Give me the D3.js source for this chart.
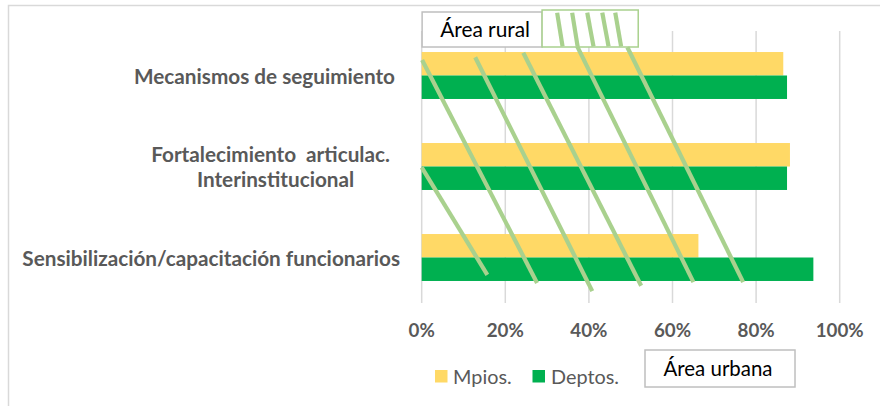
<!DOCTYPE html>
<html><head><meta charset="utf-8">
<script src="https://cdn.jsdelivr.net/npm/d3@7"></script>
<style>html,body{margin:0;padding:0;background:#fff;}svg{display:block;}</style>
</head><body>
<script>
// ---- data ----
const categories = ["Mecanismos de seguimiento", "Fortalecimiento articulac. Interinstitucional", "Sensibilización/capacitación funcionarios"];
const categoryLines = [["Mecanismos de seguimiento\u00a0"], ["Fortalecimiento\u00a0\u00a0articulac.\u00a0\u00a0", "Interinstitucional"], ["Sensibilización/capacitación funcionarios"]];
const seriesNames = ["Mpios.", "Deptos."];
const mpios = [86.5, 88.1, 66.2];
const deptos = [87.4, 87.4, 93.7];
const tickValues = [0, 20, 40, 60, 80, 100];
const tickLabels = ["0%", "20%", "40%", "60%", "80%", "100%"];
// hand-drawn hatch annotation lines: [x0 %, y0 band-units, x1 %, y1 band-units]
const hatchLines = [
  [0.1, 0.33, 27.6, 2.78],
  [12.8, 0.30, 40.8, 2.87],
  [24.3, 0.25, 52.5, 2.81],
  [37.2, 0.18, 65.0, 2.77],
  [49.2, 0.19, 76.9, 2.77],
  [0.0, 1.51, 15.7, 2.69]
];
const legendHatch = [
  [32.4, -0.19, 33.7, 0.18],
  [36.0, -0.19, 37.3, 0.18],
  [39.6, -0.19, 41.1, 0.18],
  [43.2, -0.19, 44.7, 0.18],
  [46.3, -0.19, 47.7, 0.18]
];

const W = 880, H = 406;
const colors = ["#ffd966", "#00b050"];
const hatchColor = "#a9d18e";
const textGray = "#595959";
const FONT = "Lato, 'Open Sans', sans-serif";

const svg = d3.select("body").append("svg").attr("width", W).attr("height", H);

// outer chart border
svg.append("rect").attr("x", 8.5).attr("y", 5.5).attr("width", W + 10).attr("height", H + 10)
  .attr("fill", "#fff").attr("stroke", "#d9d9d9").attr("stroke-width", 1.5);

const plot = {left: 421.7, right: 839.7, top: 30, bottom: 303};
const x = d3.scaleLinear().domain([0, 100]).range([plot.left, plot.right]);
const y = d3.scaleBand().domain(categories).range([plot.top, plot.bottom]).paddingInner(0.484).paddingOuter(0.242);
const ySub = d3.scaleBand().domain(seriesNames).range([0, y.bandwidth()]);
const yLin = d3.scaleLinear().domain([0, 3]).range([plot.top, plot.bottom]);

// gridlines
svg.append("g").selectAll("line").data(tickValues).join("line")
  .attr("x1", d => x(d)).attr("x2", d => x(d))
  .attr("y1", plot.top + 1).attr("y2", plot.bottom)
  .attr("stroke", "#d9d9d9").attr("stroke-width", 1.5);

// bars
const series = [mpios, deptos];
series.forEach((vals, si) => {
  svg.append("g").selectAll("rect").data(vals).join("rect")
    .attr("x", x(0))
    .attr("y", (d, i) => y(categories[i]) + ySub(seriesNames[si]))
    .attr("width", d => x(d) - x(0))
    .attr("height", ySub.bandwidth())
    .attr("fill", colors[si]);
});

// x axis tick labels
const xt = svg.append("g").selectAll("text").data(tickValues).join("text")
  .attr("x", d => x(d)).attr("y", 330).attr("dy", "0.35em")
  .attr("text-anchor", "middle")
  .attr("font-family", FONT).attr("font-weight", "bold").attr("font-size", 17)
  .attr("fill", textGray)
  .text((d, i) => tickLabels[i]);
{
  const n = xt.nodes()[5];
  const w = n.getComputedTextLength();
  xt.attr("font-size", 17 * 48 / w);
}

// category labels
const catG = svg.append("g");
const labelRight = 400;
const lineH = 25;
const cl = catG.selectAll("text").data(categories).join("text")
  .attr("font-family", FONT).attr("font-weight", "bold").attr("font-size", 18)
  .attr("fill", textGray).attr("text-anchor", "middle")
  .style("white-space", "pre");
cl.each(function(d, i) {
  d3.select(this).selectAll("tspan").data(categoryLines[i]).join("tspan").text(t => t);
});
{
  const ref = cl.nodes()[2].querySelector("tspan");
  const w = ref.getComputedTextLength();
  cl.attr("font-size", 18 * 378 / w);
}
cl.each(function(d, i) {
  const t = d3.select(this);
  const spans = t.selectAll("tspan");
  let maxW = 0;
  spans.each(function() { maxW = Math.max(maxW, this.getComputedTextLength()); });
  const cx = labelRight - maxW / 2;
  const n = categoryLines[i].length;
  const cy = y(d) + y.bandwidth() / 2 + 1;
  spans.attr("x", cx).attr("y", (s, j) => cy + (j - (n - 1) / 2) * lineH).attr("dy", "0.35em");
});

// hatch annotation lines
function drawLines(arr) {
  svg.append("g").selectAll("line").data(arr).join("line")
    .attr("x1", d => x(d[0])).attr("y1", d => yLin(d[1]))
    .attr("x2", d => x(d[2])).attr("y2", d => yLin(d[3]))
    .attr("stroke", hatchColor).attr("stroke-width", 4.2);
}

// "Área rural" box with hatch sample
const ruralBox = {x0: 0.1, x1: 28.8, y0: 12, y1: 47};
svg.append("rect").attr("x", x(ruralBox.x0)).attr("y", ruralBox.y0)
  .attr("width", x(ruralBox.x1) - x(ruralBox.x0)).attr("height", ruralBox.y1 - ruralBox.y0)
  .attr("fill", "#fff").attr("stroke", "#bfbfbf").attr("stroke-width", 1.5);
const rt = svg.append("text").attr("x", (x(ruralBox.x0) + x(ruralBox.x1)) / 2 + 3).attr("y", 30).attr("dy", "0.35em")
  .attr("text-anchor", "middle").attr("font-family", FONT).attr("font-size", 17).attr("fill", "#000")
  .text("Área rural");
rt.attr("font-size", 17 * 90 / rt.node().getComputedTextLength());
svg.append("rect").attr("x", x(28.8)).attr("y", 10)
  .attr("width", x(51.8) - x(28.8)).attr("height", 37)
  .attr("fill", "#fff").attr("stroke", hatchColor).attr("stroke-width", 1.5);
drawLines(legendHatch);
drawLines(hatchLines);

// legend
const legendItems = [
  {name: seriesNames[0], color: colors[0], sx: 435, tx: 453},
  {name: seriesNames[1], color: colors[1], sx: 532.5, tx: 551}
];
const lg = svg.append("g");
lg.selectAll("rect").data(legendItems).join("rect")
  .attr("x", d => d.sx).attr("y", 370).attr("width", 12.5).attr("height", 12.5).attr("fill", d => d.color);
const lt = lg.selectAll("text").data(legendItems).join("text")
  .attr("x", d => d.tx).attr("y", 377).attr("dy", "0.35em")
  .attr("font-family", FONT).attr("font-size", 17).attr("fill", textGray)
  .text(d => d.name);
lt.attr("font-size", 17 * 68 / lt.nodes()[1].getComputedTextLength());

// "Área urbana" box
svg.append("rect").attr("x", 645).attr("y", 350).attr("width", 150).attr("height", 37)
  .attr("fill", "#fff").attr("stroke", "#bfbfbf").attr("stroke-width", 1.5);
const ut = svg.append("text").attr("x", 718).attr("y", 369).attr("dy", "0.35em")
  .attr("text-anchor", "middle").attr("font-family", FONT).attr("font-size", 17).attr("fill", "#000")
  .text("Área urbana");
ut.attr("font-size", 17 * 109 / ut.node().getComputedTextLength());
</script>
</body></html>
